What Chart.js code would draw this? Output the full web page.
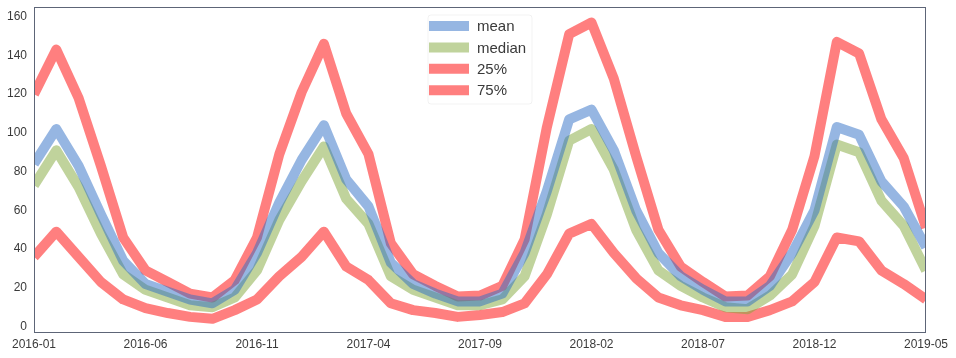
<!DOCTYPE html>
<html>
<head>
<meta charset="utf-8">
<script src="https://cdn.jsdelivr.net/npm/chart.js@4/dist/chart.umd.min.js"></script>
<style>
  html, body { margin: 0; padding: 0; background: #fff; }
  #wrap { width: 956px; height: 358px; }
</style>
</head>
<body>
<div id="wrap"><canvas id="myChart" width="956" height="358"></canvas></div>
<script>
const months = [
    '2016-01', '2016-02', '2016-03', '2016-04', '2016-05', '2016-06', '2016-07', '2016-08', '2016-09', '2016-10', '2016-11', '2016-12',
    '2017-01', '2017-02', '2017-03', '2017-04', '2017-05', '2017-06', '2017-07', '2017-08', '2017-09', '2017-10', '2017-11', '2017-12',
    '2018-01', '2018-02', '2018-03', '2018-04', '2018-05', '2018-06', '2018-07', '2018-08', '2018-09', '2018-10', '2018-11', '2018-12',
    '2019-01', '2019-02', '2019-03', '2019-04', '2019-05'
];
const meanValues = [84, 102, 83, 58, 34, 22, 18, 14, 12, 19, 38, 64, 86, 104, 76, 62, 33, 22, 17, 13, 13, 17, 38, 70, 107, 112, 91, 60, 38, 26, 19, 13, 13, 21, 38, 60, 103, 99, 75, 62, 41];
const medianValues = [73, 91, 72, 48, 27, 19, 15, 11, 10, 15, 29, 55, 75, 93, 66, 53, 26, 19, 15, 11, 11, 14, 26, 58, 96, 102, 81, 50, 29, 21, 15, 10, 9, 16, 27, 52, 94, 90, 65, 52, 29];
const p25Values = [36, 49, 36, 23, 14, 9.5, 7, 5, 4, 8.5, 14, 26, 36, 49, 31, 24, 12, 8.5, 7, 5, 6, 7.5, 12, 27, 48, 53, 38, 25, 15, 11, 8.5, 5, 5, 8.5, 13, 23, 46, 44, 29, 22, 14];
const p75Values = [120, 143, 118, 83, 46, 29, 23, 17, 15, 24, 46, 89, 121, 146, 110, 89, 43, 27, 21, 15.5, 16, 21, 45, 103, 151, 157, 128, 88, 50, 31, 23, 15.5, 16, 26, 50, 88, 147, 141, 107, 87, 51];
const yTicks = [0, 20, 40, 60, 80, 100, 120, 140, 160];

const textColor = '#3a3a3a';
const frameColor = '#5d6577';

function series(label, values, color) {
    return {
        label: label,
        data: values,
        borderColor: color,
        backgroundColor: color,
        borderWidth: 10,
        borderJoinStyle: 'round',
        pointRadius: 0,
        tension: 0,
        fill: false,
        clip: 0
    };
}

// frame round the plot area + legend box inside it
const framePlugin = {
    id: 'frame',
    afterDraw(chart) {
        const { ctx, chartArea } = chart;
        ctx.save();
        ctx.strokeStyle = frameColor;
        ctx.lineWidth = 1;
        ctx.strokeRect(chartArea.left + 0.5, chartArea.top + 0.5,
            chartArea.right - chartArea.left - 1, chartArea.bottom - chartArea.top);

        // legend
        const x0 = 428, y0 = 15, w = 104, h = 89;
        ctx.fillStyle = 'rgba(255,255,255,0.8)';
        ctx.strokeStyle = 'rgba(0,0,0,0.05)';
        ctx.beginPath();
        ctx.roundRect(x0, y0, w, h, 3);
        ctx.fill();
        ctx.stroke();
        ctx.font = '15px "Liberation Sans", Arial, sans-serif';
        ctx.textBaseline = 'middle';
        chart.data.datasets.forEach((ds, i) => {
            const cy = 26 + i * 21.4;
            ctx.strokeStyle = ds.borderColor;
            ctx.lineWidth = 10;
            ctx.beginPath();
            ctx.moveTo(429, cy);
            ctx.lineTo(469, cy);
            ctx.stroke();
            ctx.fillStyle = textColor;
            ctx.fillText(ds.label, 477, cy + 1);
        });
        ctx.restore();
    }
};

const ctx = document.getElementById('myChart').getContext('2d');
const myChart = new Chart(ctx, {
    type: 'line',
    data: {
        labels: months,
        datasets: [
            series('mean', meanValues, 'rgba(45,109,197,0.5)'),
            series('median', medianValues, 'rgba(129,167,57,0.5)'),
            series('25%', p25Values, 'rgba(255,0,0,0.5)'),
            series('75%', p75Values, 'rgba(255,0,0,0.5)')
        ]
    },
    options: {
        responsive: false,
        animation: false,
        layout: { padding: { top: 7, right: 30, left: 0, bottom: 0 } },
        plugins: {
            legend: { display: false },
            tooltip: { enabled: false }
        },
        scales: {
            x: {
                offset: false,
                grid: { display: false, drawTicks: false },
                border: { display: false },
                ticks: {
                    autoSkip: false,
                    maxRotation: 0,
                    padding: 5,
                    color: textColor,
                    font: { family: '"Liberation Sans", Arial, sans-serif', size: 12 },
                    callback: function (value, index) {
                        return index % 5 === 0 ? months[index] : '';
                    }
                },
                afterFit: function (scale) {
                    scale.height = 26;
                    scale.paddingLeft = 0;
                    scale.paddingRight = 0;
                }
            },
            y: {
                min: -2.8,
                max: 165,
                grid: { display: false, drawTicks: false },
                border: { display: false },
                ticks: {
                    padding: 7,
                    color: textColor,
                    font: { family: '"Liberation Sans", Arial, sans-serif', size: 12 }
                },
                afterBuildTicks: function (scale) {
                    scale.ticks = yTicks.map(v => ({ value: v }));
                },
                afterFit: function (scale) {
                    scale.width = 34;
                    scale.paddingTop = 0;
                    scale.paddingBottom = 0;
                }
            }
        }
    },
    plugins: [framePlugin]
});
</script>
</body>
</html>
